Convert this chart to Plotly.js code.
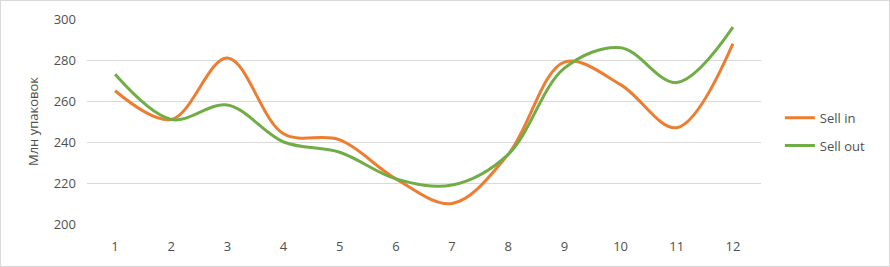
<!DOCTYPE html>
<html>
<head>
<meta charset="utf-8">
<script src="https://cdn.plot.ly/plotly-3.0.1.min.js"></script>
<style>
  html, body { margin: 0; padding: 0; background: #fff; }
  #wrap { position: relative; width: 890px; height: 267px; }
  #chart { width: 890px; height: 267px; }
  #frame { position: absolute; left: 0; top: 0; width: 890px; height: 267px; box-sizing: border-box; border: 1px solid #d9d9d9; pointer-events: none; }
</style>
</head>
<body>
<div id="wrap"><div id="chart"></div><div id="frame"></div></div>
<script>
const categories = ['1','2','3','4','5','6','7','8','9','10','11','12'];
const sellIn  = [265, 251, 281, 244, 241, 222, 210, 234, 279, 268, 247, 288];
const sellOut = [273, 251, 258, 240, 235, 222, 219, 234, 276, 286, 269, 296];
const seriesNames = ['Sell in', 'Sell out'];
const yTicks = [200, 220, 240, 260, 280, 300];

const font = 'Open Sans, Liberation Sans, sans-serif';
const traces = [
  { x: categories, y: sellIn, name: seriesNames[0], legendgroup: 'a', type: 'scatter', mode: 'lines',
    line: { color: '#ED7D31', width: 3, shape: 'spline', smoothing: 1 } },
  { x: categories, y: sellOut, name: seriesNames[1], legendgroup: 'b', type: 'scatter', mode: 'lines',
    line: { color: '#70AD47', width: 3, shape: 'spline', smoothing: 1 } }
];
const layout = {
  width: 890, height: 267,
  margin: { l: 87, r: 129, t: 19, b: 43 },
  paper_bgcolor: '#fff', plot_bgcolor: '#fff',
  font: { family: font, size: 13, color: '#505050' },
  showlegend: true,
  legend: { x: 1.028, y: 0.45, xanchor: 'left', yanchor: 'middle',
            font: { family: font, size: 13, color: '#505050' },
            tracegroupgap: 8 },
  xaxis: { type: 'category', range: [-0.5, categories.length - 0.5],
           showgrid: false, zeroline: false, showline: false,
           ticks: '', ticklabelstandoff: 13, tickfont: { size: 13, color: '#505050' } },
  yaxis: { range: [200, 300], tickvals: yTicks, showgrid: true, gridcolor: '#d9d9d9', gridwidth: 1,
           zeroline: false, showline: false, ticks: '', ticklabelstandoff: 10,
           tickfont: { size: 13, color: '#505050' },
           title: { text: 'Млн упаковок', font: { size: 13, color: '#505050' }, standoff: 12 } }
};
Plotly.newPlot('chart', traces, layout, { displayModeBar: false, staticPlot: true });
</script>
</body>
</html>
